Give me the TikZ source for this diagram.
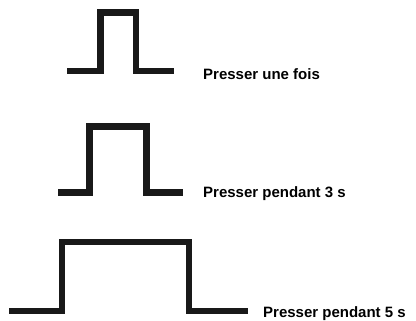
\documentclass[tikz,border=0pt]{standalone}
\usepackage{fontspec}
\setmainfont{Liberation Sans}
\usetikzlibrary{positioning}

\tikzset{
    pulse/.style={line width=6.5pt, line join=miter, draw=black!90},
    caption/.style={anchor=base west, inner sep=0pt, font=\bfseries\fontsize{15}{18}\selectfont}
}

\begin{document}
\begin{tikzpicture}[x=1pt, y=-1pt]
                \useasboundingbox (0,0) rectangle (416,321);

                % pulse 1 : court appui
                \coordinate (a1) at (67,71);
                \coordinate (b1) at (100.5,71);
                \coordinate (c1) at (100.5,12.5);
                \coordinate (d1) at (136,12.5);
                \coordinate (e1) at (136,71);
                \coordinate (f1) at (174,71);
                \node [caption] (t1) at (203,80) {Presser une fois};

                % pulse 2 : 3 s
                \coordinate (a2) at (58,192.5);
                \coordinate (b2) at (89.5,192.5);
                \coordinate (c2) at (89.5,126.5);
                \coordinate (d2) at (146.5,126.5);
                \coordinate (e2) at (146.5,192.5);
                \coordinate (f2) at (183,192.5);
                \node [caption] (t2) at (203,198) {Presser pendant 3 s};

                % pulse 3 : 5 s
                \coordinate (a3) at (9,311);
                \coordinate (b3) at (62,311);
                \coordinate (c3) at (62,242);
                \coordinate (d3) at (189,242);
                \coordinate (e3) at (189,311);
                \coordinate (f3) at (248,311);
                \node [caption] (t3) at (263,317) {Presser pendant 5 s};

                \foreach \i in {1,2,3} {
                    \draw [pulse] (a\i) -- (b\i) -- (c\i) -- (d\i) -- (e\i) -- (f\i);
                }
\end{tikzpicture}
\end{document}
